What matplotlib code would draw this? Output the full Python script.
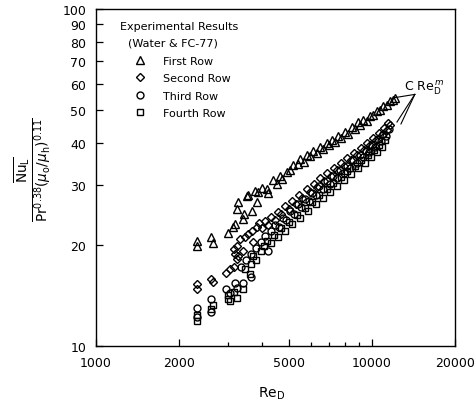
import matplotlib.pyplot as plt

# First Row (triangles)
tri_re = [2320, 2320, 2610, 2650, 3010, 3140, 3200, 3230, 3270, 3410, 3430, 3520,
          3560, 3670, 3770, 3820, 3880, 3990, 4150, 4210, 4390, 4520, 4650, 4710,
          4910, 5050, 5190, 5410, 5490, 5650, 5800, 5950, 6130, 6300, 6480, 6650,
          6860, 7000, 7150, 7350, 7550, 7750, 7990, 8200, 8450, 8700, 8920, 9050,
          9300, 9600, 9840, 10100, 10400, 10700, 11000, 11300, 11620, 11900, 12120]
tri_nu = [20.5, 19.8, 21.0, 20.2, 21.7, 22.6, 23.0, 25.5, 26.7, 23.8, 24.6, 27.8,
          28.1, 25.1, 28.8, 26.7, 28.6, 29.5, 29.2, 28.4, 31.0, 30.2, 32.0, 31.2,
          32.8, 33.2, 34.5, 34.6, 35.9, 35.2, 36.9, 36.6, 37.9, 37.4, 38.9, 38.5,
          40.0, 39.5, 40.9, 40.4, 41.9, 41.5, 43.2, 42.6, 44.7, 44.0, 46.2, 45.2,
          46.9, 46.6, 48.1, 48.6, 49.9, 50.3, 51.6, 52.0, 53.4, 53.8, 54.6]

# Second Row (diamonds)
dia_re = [2320, 2320, 2620, 2660, 2970, 3060, 3150, 3150, 3200, 3240, 3240, 3280,
          3330, 3420, 3470, 3560, 3670, 3700, 3820, 3900, 4000, 4100, 4200, 4300,
          4450, 4550, 4700, 4850, 5000, 5150, 5300, 5450, 5600, 5800, 5950, 6150,
          6300, 6500, 6700, 6900, 7100, 7300, 7500, 7700, 7950, 8150, 8400, 8600,
          8850, 9100, 9350, 9600, 9850, 10100, 10350, 10600, 10850, 11100, 11300,
          11450, 11600]
dia_nu = [15.3, 14.8, 15.8, 15.5, 16.5, 16.9, 17.2, 19.4, 18.7, 18.1, 19.8, 18.5,
          20.8, 19.2, 21.0, 21.5, 22.0, 20.4, 22.5, 23.2, 22.4, 23.5, 22.9, 24.2,
          23.6, 25.0, 24.6, 26.1, 25.5, 27.0, 26.4, 28.1, 27.5, 29.2, 28.6, 30.3,
          29.7, 31.5, 30.8, 32.7, 32.0, 33.8, 33.3, 35.0, 34.3, 36.2, 35.6, 37.5,
          36.9, 38.7, 38.1, 40.0, 39.4, 41.5, 40.8, 43.0, 42.3, 44.4, 43.7, 46.0, 45.2]

# Third Row (circles)
cir_re = [2320, 2320, 2620, 2620, 2970, 3060, 3200, 3240, 3350, 3420, 3500, 3640,
          3650, 3800, 3950, 4100, 4210, 4300, 4450, 4600, 4750, 4900, 5050, 5200,
          5400, 5550, 5700, 5900, 6050, 6250, 6450, 6650, 6850, 7050, 7250, 7450,
          7650, 7900, 8100, 8350, 8550, 8800, 9050, 9300, 9500, 9750, 10000, 10250,
          10500, 10750, 11000, 11250, 11500]
cir_nu = [13.0, 12.2, 13.8, 12.6, 14.8, 14.4, 15.4, 14.9, 17.2, 15.4, 18.0, 16.0,
          18.8, 19.5, 20.4, 21.2, 19.2, 22.0, 22.9, 22.6, 24.0, 23.6, 25.2, 24.6,
          26.3, 25.8, 27.3, 26.9, 28.5, 28.0, 29.8, 29.2, 30.9, 30.3, 32.0, 31.5,
          33.3, 32.6, 34.3, 33.8, 35.6, 35.0, 36.9, 36.3, 38.0, 37.6, 39.6, 39.0,
          41.2, 40.5, 42.6, 42.0, 44.0]

# Fourth Row (squares)
sq_re = [2320, 2320, 2620, 2650, 3000, 3060, 3000, 3150, 3250, 3420, 3470, 3600,
         3715, 3650, 3800, 3950, 4050, 4150, 4300, 4400, 4550, 4700, 4850, 5000,
         5150, 5350, 5500, 5700, 5850, 6050, 6250, 6450, 6650, 6850, 7050, 7250,
         7450, 7700, 7900, 8150, 8400, 8650, 8900, 9150, 9400, 9650, 9900, 10150,
         10400, 10650, 10900, 11150]
sq_nu = [12.4, 11.9, 12.9, 13.2, 13.8, 13.6, 14.2, 14.5, 13.9, 14.8, 16.9, 16.4,
         18.5, 17.5, 18.0, 19.2, 19.8, 20.5, 20.2, 21.4, 21.0, 22.4, 22.0, 23.4,
         23.0, 24.5, 24.0, 25.6, 25.1, 26.8, 26.3, 28.0, 27.5, 29.2, 28.7, 30.4,
         29.9, 31.7, 31.1, 33.0, 32.4, 34.3, 33.7, 35.6, 35.0, 36.8, 36.3, 38.1,
         37.6, 39.5, 39.0, 40.8]

# axis ticks
x_major = [1000, 2000, 5000, 10000, 20000]
x_minor = [3000, 4000, 6000, 7000, 8000, 9000]
y_ticks = [10, 20, 30, 40, 50, 60, 70, 80, 90, 100]

# correlation label and where its leader lines go
label_pos = (13100, 58.5)
leader_from = (14300, 55.8)
wedge_ends = [(12320, 46.2), (12740, 45.6)]

fig = plt.figure(figsize=(4.77, 4.06), dpi=100)
ax = fig.add_axes([0.2013, 0.1453, 0.7526, 0.8300])

ms_style = dict(linestyle='none', mfc='none', mec='black', mew=1.0)
ax.plot(tri_re, tri_nu, marker='^', ms=5.2, label='First Row', **ms_style)
ax.plot(dia_re, dia_nu, marker='D', ms=4.3, label='Second Row', **ms_style)
ax.plot(cir_re, cir_nu, marker='o', ms=5.0, label='Third Row', **ms_style)
ax.plot(sq_re, sq_nu, marker='s', ms=4.8, label='Fourth Row', **ms_style)

ax.set_xscale('log')
ax.set_yscale('log')
ax.set_xlim(1000, 20000)
ax.set_ylim(10, 100)
ax.set_xticks(x_major, labels=[str(v) for v in x_major])
ax.set_xticks(x_minor, minor=True, labels=[''] * len(x_minor))
ax.set_yticks(y_ticks, labels=[str(v) for v in y_ticks])
ax.set_yticks([], minor=True)
ax.tick_params(which='both', direction='in', width=0.9, labelsize=9, pad=7)
ax.tick_params(which='major', length=5)
ax.tick_params(which='minor', length=3)
for sp in ax.spines.values():
    sp.set_linewidth(1.0)

# annotation C Re_D^m
ax.text(label_pos[0], label_pos[1], r'C Re$_{\mathrm{D}}^{\,m}$', fontsize=9,
        ha='left', va='center')
ax.plot([leader_from[0], tri_re[-1]], [leader_from[1], tri_nu[-1]], color='black', lw=0.8)
for xe, ye in wedge_ends:
    ax.plot([leader_from[0], xe], [leader_from[1], ye], color='black', lw=0.8)

# legend block
ax.text(0.067, 0.950, 'Experimental Results', transform=ax.transAxes, fontsize=8,
        ha='left', va='center')
ax.text(0.088, 0.900, '(Water & FC-77)', transform=ax.transAxes, fontsize=8,
        ha='left', va='center')
ax.legend(loc='upper left', bbox_to_anchor=(0.107, 0.862), frameon=False,
          fontsize=8, handlelength=1.0, handletextpad=1.6, labelspacing=0.68,
          borderpad=0, borderaxespad=0, numpoints=1)

ax.set_xlabel(r'Re$_{\mathrm{D}}$', fontsize=10)
ax.xaxis.set_label_coords(0.49, -0.115)
ax.set_ylabel(r'$\frac{\overline{\mathrm{Nu}_{\mathrm{L}}}}{\mathrm{Pr}^{0.38}(\mu_{\mathrm{o}}/\mu_{\mathrm{h}})^{0.11}}$',
              fontsize=14)
ax.yaxis.set_label_coords(-0.118, 0.525)

fig.savefig('out.png', dpi=100)
